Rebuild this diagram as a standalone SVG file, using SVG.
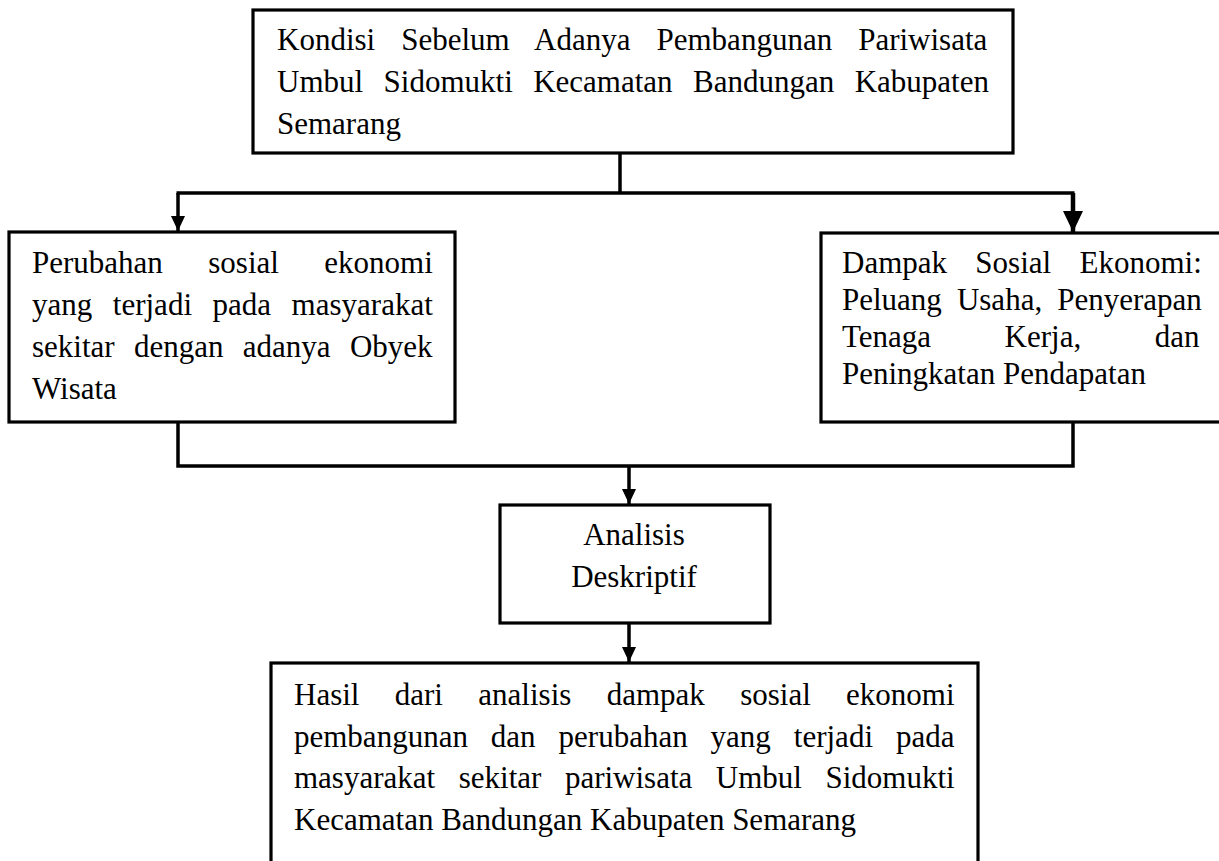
<svg xmlns="http://www.w3.org/2000/svg" width="1219" height="861" viewBox="0 0 1219 861">
<style>
.box{fill:#fff;stroke:#000;stroke-width:3.2}
.t{font-family:"Liberation Serif","Times New Roman",serif;font-size:31px;fill:#000}
.c{fill:none;stroke:#000;stroke-width:3.5}
</style>
<defs>
<marker id="ah" markerUnits="userSpaceOnUse" markerWidth="16" markerHeight="16" viewBox="0 0 16 16" refX="15" refY="8" orient="auto">
<path d="M0,1 L15,8 L0,15 Z" fill="#000"/>
</marker>
<marker id="ahb" markerUnits="userSpaceOnUse" markerWidth="22" markerHeight="22" viewBox="0 0 22 22" refX="21" refY="11" orient="auto">
<path d="M0,1 L21,11 L0,21 Z" fill="#000"/>
</marker>
</defs>
<rect width="1219" height="861" fill="#fff"/>
<g id="connectors">
<path class="c" d="M620,153 V193"/>
<path class="c" d="M176.5,193 H1074.5"/>
<path class="c" d="M178,193 V231" marker-end="url(#ah)"/>
<path class="c" d="M1073,193 V232" marker-end="url(#ahb)" style="stroke-width:4.5"/>
<path class="c" d="M178,422 V466 H1073 V422"/>
<path class="c" d="M629,466 V504" marker-end="url(#ah)"/>
<path class="c" d="M629,623 V662" marker-end="url(#ah)"/>
</g>
<g id="node-kondisi">
<rect class="box" x="253" y="10" width="760" height="143"/>
<text class="t" x="277" y="50" word-spacing="18.3">Kondisi Sebelum Adanya Pembangunan Pariwisata</text>
<text class="t" x="277" y="92" word-spacing="12.7">Umbul Sidomukti Kecamatan Bandungan Kabupaten</text>
<text class="t" x="277" y="134">Semarang</text>
</g>
<g id="node-perubahan">
<rect class="box" x="9" y="232" width="446" height="190"/>
<text class="t" x="32" y="273" word-spacing="37.7">Perubahan sosial ekonomi</text>
<text class="t" x="32" y="315" word-spacing="12.8">yang terjadi pada masyarakat</text>
<text class="t" x="32" y="357" word-spacing="11.6">sekitar dengan adanya Obyek</text>
<text class="t" x="32" y="399">Wisata</text>
</g>
<g id="node-dampak">
<rect class="box" x="821" y="233" width="410" height="189"/>
<text class="t" x="842" y="273" word-spacing="20.6">Dampak Sosial Ekonomi:</text>
<text class="t" x="842" y="310" word-spacing="7.3">Peluang Usaha, Penyerapan</text>
<text class="t" x="842" y="347" word-spacing="65.8">Tenaga Kerja, dan</text>
<text class="t" x="842" y="384">Peningkatan Pendapatan</text>
</g>
<g id="node-analisis">
<rect class="box" x="500" y="505" width="270" height="118"/>
<text class="t" x="634" y="545" text-anchor="middle">Analisis</text>
<text class="t" x="634" y="587" text-anchor="middle">Deskriptif</text>
</g>
<g id="node-hasil">
<rect class="box" x="271" y="663" width="707" height="210"/>
<text class="t" x="294" y="705" word-spacing="27.6">Hasil dari analisis dampak sosial ekonomi</text>
<text class="t" x="294" y="747" word-spacing="15.2">pembangunan dan perubahan yang terjadi pada</text>
<text class="t" x="294" y="788" word-spacing="15.8">masyarakat sekitar pariwisata Umbul Sidomukti</text>
<text class="t" x="294" y="830">Kecamatan Bandungan Kabupaten Semarang</text>
</g>
</svg>
